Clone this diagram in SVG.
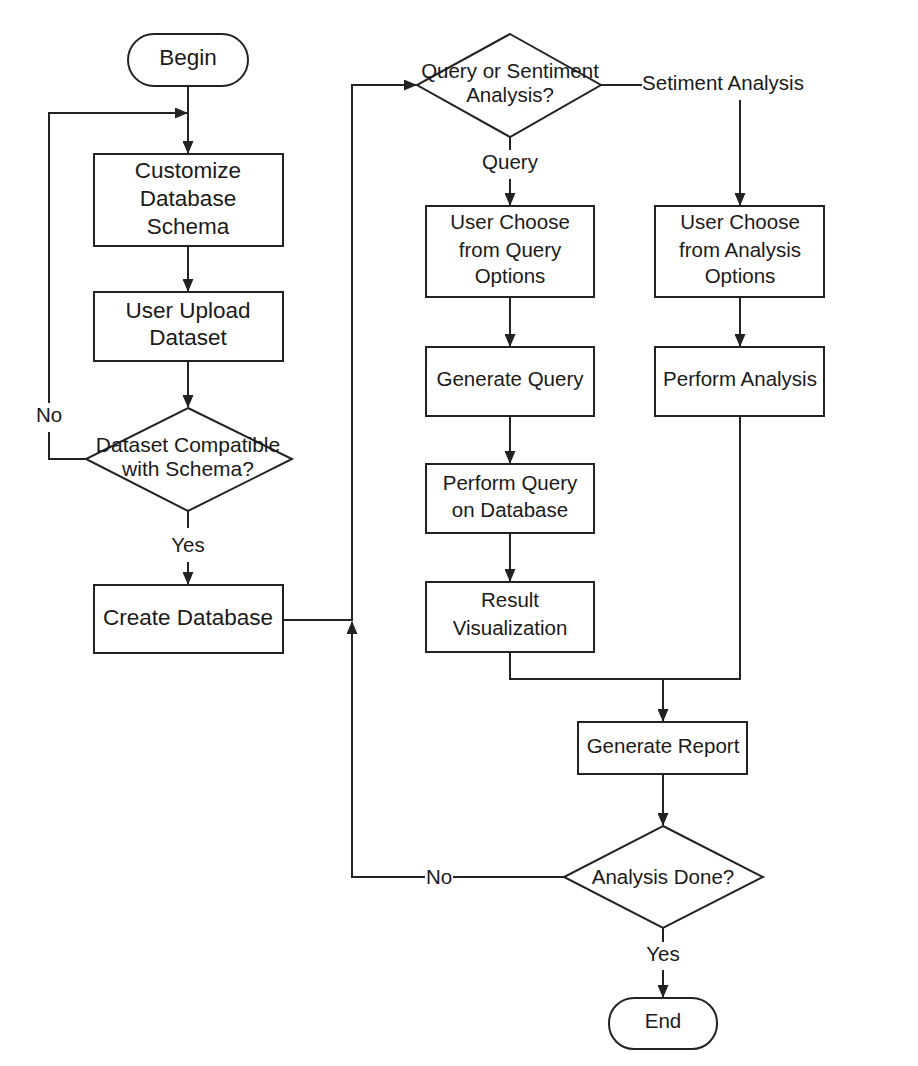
<svg xmlns="http://www.w3.org/2000/svg" width="918" height="1066" viewBox="0 0 918 1066">
<style>
.box{fill:#fff;stroke:#222;stroke-width:2}
.ln{fill:none;stroke:#222;stroke-width:2}
.arr{fill:none;stroke:#222;stroke-width:2;marker-end:url(#ah)}
text{font-family:"Liberation Sans",Arial,sans-serif;font-size:20.5px;fill:#1a1a1a;text-anchor:middle}
.big{font-size:22.5px}
</style>
<defs>
<marker id="ah" markerUnits="userSpaceOnUse" markerWidth="13" markerHeight="11" viewBox="0 0 13 11" refX="12" refY="5.5" orient="auto">
<path d="M0,0 L13,5.5 L0,11 z" fill="#222"/>
</marker>
</defs>
<rect width="918" height="1066" fill="#fff"/>
<g id="connectors">
<path class="arr" d="M188,86 V153"/>
<path class="ln" d="M86,459 H49 V432"/>
<path class="arr" d="M49,403 V113 H187"/>
<path class="arr" d="M188,246 V291"/>
<path class="arr" d="M188,361 V407"/>
<path class="ln" d="M188,511 V528"/>
<path class="arr" d="M188,562 V584"/>
<path class="arr" d="M283,620 H352 V85 H416"/>
<path class="ln" d="M564,877 H453"/>
<path class="arr" d="M425,877 H352 V622"/>
<path class="ln" d="M601,85 H642"/>
<path class="arr" d="M740,100 V205"/>
<path class="ln" d="M510,137 V150"/>
<path class="arr" d="M510,179 V205"/>
<path class="arr" d="M510,297 V346"/>
<path class="arr" d="M740,297 V346"/>
<path class="arr" d="M510,416 V463"/>
<path class="arr" d="M510,533 V581"/>
<path class="ln" d="M510,652 V679 H740 V416"/>
<path class="arr" d="M663,679 V721"/>
<path class="arr" d="M663,774 V825"/>
<path class="ln" d="M663,928 V942"/>
<path class="arr" d="M663,970 V997"/>
<text x="49" y="422">No</text>
<text x="188" y="552">Yes</text>
<text x="439" y="884">No</text>
<text x="663" y="961">Yes</text>
<text x="510" y="169">Query</text>
<text x="723" y="90">Setiment Analysis</text>
</g>
<g id="begin">
<rect class="box" x="128" y="34" width="120" height="52" rx="26"/>
<text class="big" x="188" y="65">Begin</text>
</g>
<g id="customize">
<rect class="box" x="94" y="154" width="189" height="92"/>
<text class="big" x="188" y="178">Customize</text>
<text class="big" x="188" y="206">Database</text>
<text class="big" x="188" y="234">Schema</text>
</g>
<g id="upload">
<rect class="box" x="94" y="292" width="189" height="69"/>
<text class="big" x="188" y="318">User Upload</text>
<text class="big" x="188" y="345">Dataset</text>
</g>
<g id="compatible">
<path class="box" d="M188,408 L292,459 L188,511 L86,459 Z"/>
<text x="188" y="452" style="font-size:21px">Dataset Compatible</text>
<text x="188" y="476" style="font-size:21px">with Schema?</text>
</g>
<g id="create">
<rect class="box" x="94" y="585" width="189" height="68"/>
<text class="big" x="188" y="625">Create Database</text>
</g>
<g id="choice">
<path class="box" d="M510,34 L601,85 L510,137 L417,85 Z"/>
<text x="510" y="78">Query or Sentiment</text>
<text x="510" y="102">Analysis?</text>
</g>
<g id="queryOptions">
<rect class="box" x="426" y="206" width="168" height="91"/>
<text x="510" y="229">User Choose</text>
<text x="510" y="257">from Query</text>
<text x="510" y="283">Options</text>
</g>
<g id="analysisOptions">
<rect class="box" x="655" y="206" width="169" height="91"/>
<text x="740" y="229">User Choose</text>
<text x="740" y="257">from Analysis</text>
<text x="740" y="283">Options</text>
</g>
<g id="generateQuery">
<rect class="box" x="426" y="347" width="168" height="69"/>
<text x="510" y="386">Generate Query</text>
</g>
<g id="performAnalysis">
<rect class="box" x="655" y="347" width="169" height="69"/>
<text x="740" y="386">Perform Analysis</text>
</g>
<g id="performQuery">
<rect class="box" x="426" y="464" width="168" height="69"/>
<text x="510" y="490">Perform Query</text>
<text x="510" y="517">on Database</text>
</g>
<g id="result">
<rect class="box" x="426" y="582" width="168" height="70"/>
<text x="510" y="607">Result</text>
<text x="510" y="635">Visualization</text>
</g>
<g id="report">
<rect class="box" x="578" y="722" width="169" height="52"/>
<text x="663" y="753">Generate Report</text>
</g>
<g id="done">
<path class="box" d="M663,826 L763,877 L663,928 L564,877 Z"/>
<text x="663" y="884">Analysis Done?</text>
</g>
<g id="end">
<rect class="box" x="609" y="998" width="108" height="51" rx="25"/>
<text x="663" y="1028">End</text>
</g>
</svg>
